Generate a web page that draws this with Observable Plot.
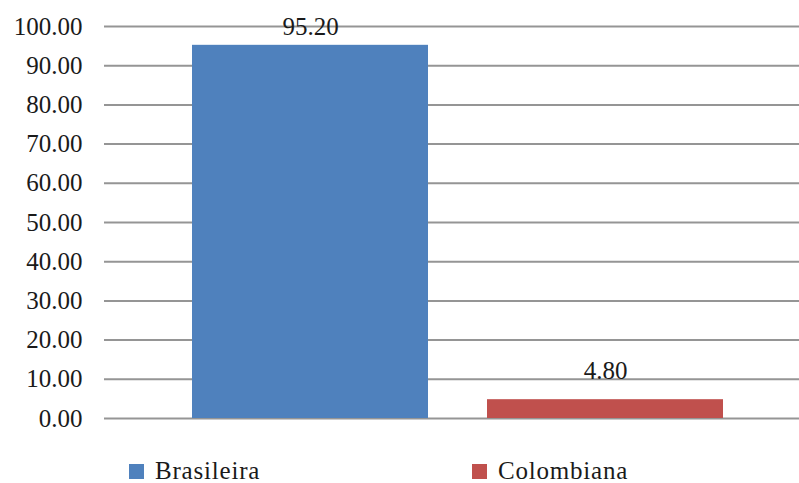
<!DOCTYPE html>
<html>
<head>
<meta charset="utf-8">
<script src="https://cdn.jsdelivr.net/npm/d3@7"></script>
<script src="https://cdn.jsdelivr.net/npm/@observablehq/plot@0.6"></script>
<style>
  html, body { margin: 0; padding: 0; background: #fff; font-family: 'Liberation Serif', serif; }
  #chart { width: 799px; font-family: 'Liberation Serif', serif; }
  #chart svg, #chart svg text { font-family: 'Liberation Serif', serif; }
  .legend { position: relative; width: 799px; height: 43px; }
  .legend .item { position: absolute; top: 13px; display: flex; align-items: center;
                  font-family: 'Liberation Serif', serif;
                  font-size: 25px; letter-spacing: 0.8px; color: #1a1a1a; line-height: 36px; }
  .legend .swatch { width: 15px; height: 15px; margin-right: 11px; }
</style>
</head>
<body>
<div id="chart"></div>
<script>
// Nationality share (%)
const categories = ["Brasileira", "Colombiana"];
const values = [95.20, 4.80];
const colors = ["#4F81BD", "#C0504D"];
const yTicks = [0, 10, 20, 30, 40, 50, 60, 70, 80, 90, 100];

const data = categories.map((c, i) => ({category: c, value: values[i]}));
const fmt = d3.format(".2f");

const plot = Plot.plot({
  width: 799,
  height: 440,
  marginTop: 26,
  marginBottom: 22,
  marginLeft: 104,
  marginRight: 0,
  style: {fontSize: "25px", color: "#1a1a1a", background: "#fff"},
  x: {domain: categories, range: [192, 723], paddingInner: 0.2, paddingOuter: 0, axis: null},
  y: {domain: [0, 100], ticks: yTicks, tickFormat: fmt, tickSize: 0, tickPadding: 22, label: null},
  color: {domain: categories, range: colors},
  marks: [
    // horizontal gridlines, including the baseline
    Plot.ruleY(yTicks, {stroke: "#959595", strokeWidth: 2}),
    Plot.barY(data, {x: "category", y: "value", fill: "category"}),
    // value labels; the tall bar's label sits tighter against the top edge
    Plot.text(data.filter(d => d.category === "Brasileira"), {
      x: "category", y: "value", text: d => fmt(d.value),
      lineAnchor: "bottom", dy: -10, fill: "#1a1a1a", fontSize: 25
    }),
    Plot.text(data.filter(d => d.category === "Colombiana"), {
      x: "category", y: "value", text: d => fmt(d.value),
      lineAnchor: "bottom", dy: -21, fill: "#1a1a1a", fontSize: 25
    })
  ]
});

const root = document.getElementById("chart");
root.appendChild(plot);

// Legend below the plot
const legend = document.createElement("div");
legend.className = "legend";
const lefts = [129, 472];
categories.forEach((c, i) => {
  const item = document.createElement("div");
  item.className = "item";
  item.style.left = lefts[i] + "px";
  const sw = document.createElement("span");
  sw.className = "swatch";
  sw.style.background = colors[i];
  const label = document.createElement("span");
  label.textContent = c;
  item.appendChild(sw);
  item.appendChild(label);
  legend.appendChild(item);
});
root.appendChild(legend);
</script>
</body>
</html>
